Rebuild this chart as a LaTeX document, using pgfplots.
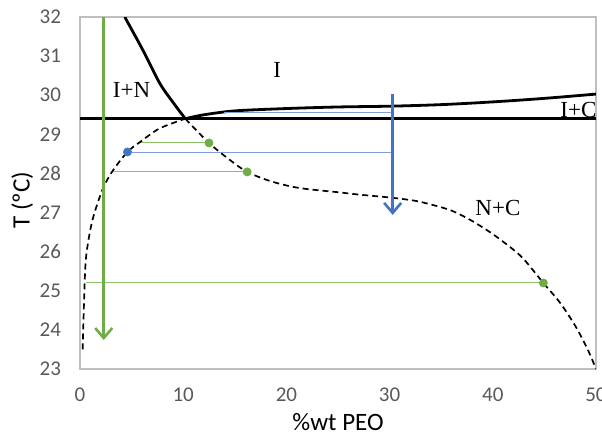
\documentclass[border=0pt]{standalone}
\usepackage{fontspec}
\setmainfont{Liberation Serif}
\newfontfamily\calibri{Carlito}
\usepackage{pgfplots}
\pgfplotsset{compat=1.18}
\usetikzlibrary{arrows.meta}

\definecolor{axgray}{HTML}{BFBFBF}
\definecolor{tickgray}{HTML}{595959}
\definecolor{xlgreen}{HTML}{70AD47}
\definecolor{xlblue}{HTML}{4472C4}
\definecolor{tiegreen}{HTML}{8CC168}
\definecolor{tieblue}{HTML}{7F9FDB}

\begin{document}
\begin{tikzpicture}
\begin{axis}[
    scale only axis,
    width=258pt, height=176pt,
    xmin=0, xmax=50, ymin=23, ymax=32,
    xtick={0,10,...,50}, ytick={23,24,...,32},
    major tick length=0pt,
    axis line style={axgray, line width=1pt},
    tick label style={font=\calibri\fontsize{10.5}{12}\selectfont, text=tickgray},
    /pgf/number format/assume math mode=true,
    xticklabel style={yshift=-6pt},
    yticklabel style={xshift=-6pt},
    xlabel={\calibri\fontsize{12.5}{14}\selectfont \%wt PEO},
    ylabel={\calibri\fontsize{12.5}{14}\selectfont T (ºC)},
    xlabel style={at={(axis description cs:0.5,-0.152)}, anchor=center},
    ylabel style={at={(axis description cs:-0.112,0.48)}, anchor=center},
    clip=true,
]
% horizontal line
\addplot[black, line width=1.4pt] coordinates {(0,29.4) (50,29.4)};
% upper solid boundary
\addplot[black, line width=1.4pt, smooth] coordinates {
    (10.2,29.4) (12,29.5) (15,29.6) (20,29.66) (25,29.7) (30,29.72)
    (35,29.76) (40,29.83) (45,29.92) (50,30.03)};
% steep solid boundary
\addplot[black, line width=1.4pt, smooth] coordinates {
    (4.34,32) (6.08,31.16) (7.72,30.31) (8.98,29.83) (10.2,29.4)};
% tie lines
\addplot[tiegreen, line width=0.5pt] coordinates {(5.8,28.78) (12.5,28.78)};
\addplot[tiegreen, line width=0.5pt] coordinates {(3.2,28.06) (16.2,28.06)};
\addplot[tiegreen, line width=0.5pt] coordinates {(0.6,25.2) (44.9,25.2)};
\addplot[tieblue, line width=0.5pt] coordinates {(4.6,28.53) (30.3,28.53)};
\addplot[tieblue, line width=0.5pt] coordinates {(14,29.57) (30.3,29.57)};
% left dashed branch
\addplot[black, line width=0.85pt, dash pattern=on 3pt off 2pt, smooth] coordinates {
    (0.26,23.5) (0.45,25.2) (0.63,25.96) (1.2,26.8) (2.2,27.6) (3.2,28.08)
    (4.6,28.55) (5.8,28.8) (7.7,29.15) (10.2,29.4)};
% right dashed branch
\addplot[black, line width=0.85pt, dash pattern=on 3pt off 2pt, smooth] coordinates {
    (10.2,29.4) (12.5,28.78) (14.5,28.35) (16.2,28.04) (18.5,27.8) (21.2,27.63)
    (25,27.52) (27,27.46) (30.2,27.38) (32.5,27.3) (34.1,27.2) (36,27.05)
    (37.9,26.8) (40,26.45) (42,26.05) (43.1,25.78) (44.9,25.2) (46.5,24.7)
    (48,24.1) (49.2,23.5) (50,23.0)};
% arrows
\addplot[xlgreen, line width=1.3pt, -{Straight Barb[length=5pt,width=8.5pt]}] coordinates {(2.3,32) (2.3,23.74)};
\addplot[xlblue, line width=1.3pt, -{Straight Barb[length=5pt,width=8.5pt]}] coordinates {(30.3,30.03) (30.3,26.94)};
% points
\addplot[only marks, mark=*, mark size=2pt, xlgreen] coordinates {(12.5,28.78) (16.2,28.04) (44.9,25.2)};
\addplot[only marks, mark=*, mark size=2pt, xlblue] coordinates {(4.6,28.55)};
% region labels
\node[font=\fontsize{11.5}{13}\selectfont] at (axis cs:19.1,30.64) {I};
\node[font=\fontsize{11.5}{13}\selectfont] at (axis cs:5.0,30.13) {I+N};
\node[font=\fontsize{11.5}{13}\selectfont] at (axis cs:48.3,29.62) {I+C};
\node[font=\fontsize{11.5}{13}\selectfont] at (axis cs:40.5,27.12) {N+C};
\end{axis}
\pgfresetboundingbox
\path[use as bounding box] (-40pt,-33pt) rectangle (261pt,184.5pt);
\end{tikzpicture}
\end{document}
